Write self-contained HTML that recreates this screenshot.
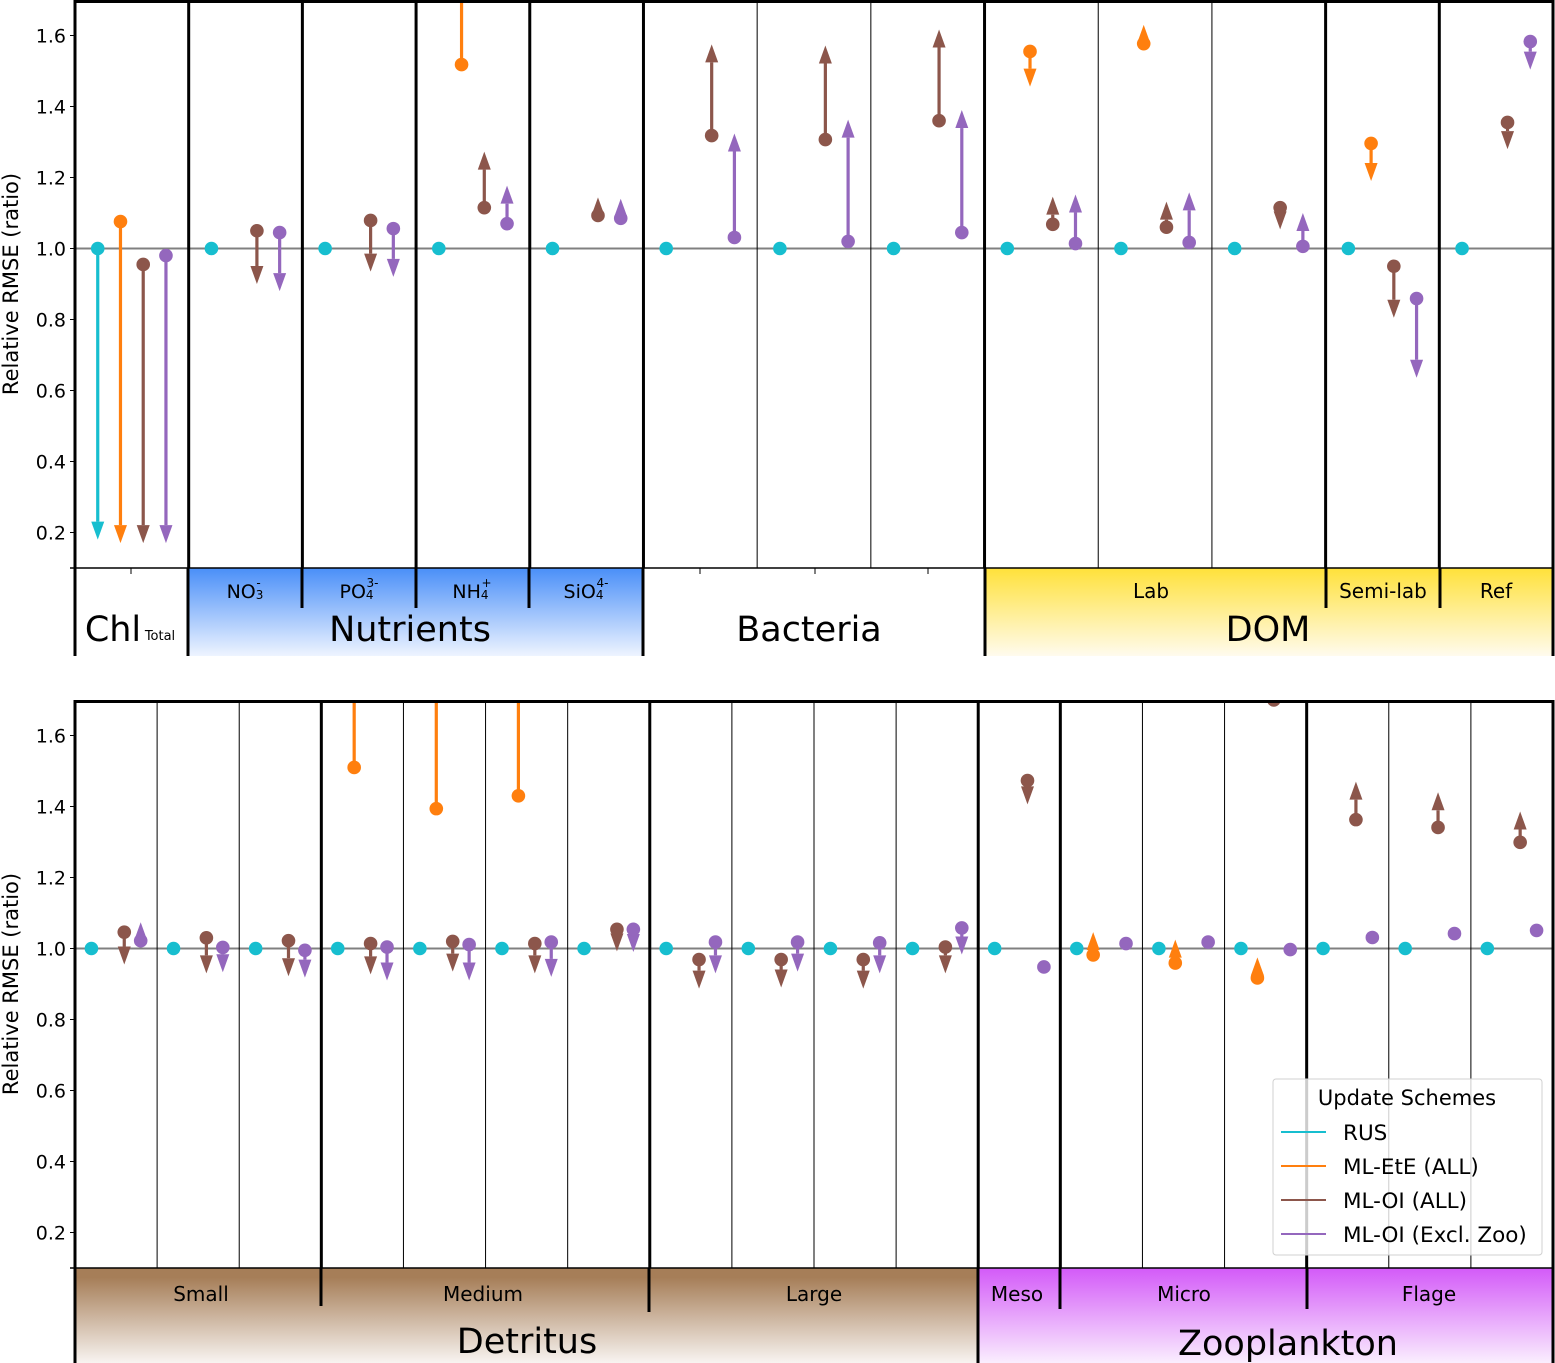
<!DOCTYPE html>
<html><head><meta charset="utf-8"><style>
body{margin:0;background:#fff}
svg{display:block;font-family:"DejaVu Sans","Liberation Sans",sans-serif}
</style></head><body>
<svg id="fig" width="1555" height="1363" viewBox="0 0 1555 1363">
<defs>
<linearGradient id="gBlue" x1="0" y1="0" x2="0" y2="1"><stop offset="0" stop-color="#4a8ff8"/><stop offset="1" stop-color="#eef4ff"/></linearGradient>
<linearGradient id="gYel" x1="0" y1="0" x2="0" y2="1"><stop offset="0" stop-color="#ffe13a"/><stop offset="1" stop-color="#fffbee"/></linearGradient>
<linearGradient id="gBrown" x1="0" y1="0" x2="0" y2="1"><stop offset="0.1" stop-color="#a67e58"/><stop offset="1" stop-color="#f8f4f1"/></linearGradient>
<linearGradient id="gPurp" x1="0" y1="0" x2="0" y2="1"><stop offset="0" stop-color="#d35af8"/><stop offset="1" stop-color="#faeefe"/></linearGradient>
<clipPath id="clipTop"><rect x="75" y="0" width="1478" height="568"/></clipPath>
<clipPath id="clipBot"><rect x="75" y="700" width="1478" height="568"/></clipPath>
</defs>
<g id="layer"></g>
</svg>
<script>
// ---- data ----
const topCategories = ["Chl","NO3","PO4","NH4","SiO4","Bact1","Bact2","Bact3","Lab1","Lab2","Lab3","Semi-lab","Ref"];
const topRusVals = [1,1,1,1,1,1,1,1,1,1,1,1,1];
const topRusEnds = [0.18,null,null,null,null,null,null,null,null,null,null,null,null];
const topEteVals = [1.076,null,null,1.518,null,null,null,null,1.555,1.577,null,1.296,null];
const topEteEnds = [0.17,null,null,1.85,null,null,null,null,1.456,1.63,null,1.19,null];
const topOiVals = [0.955,1.05,1.079,1.115,1.093,1.318,1.307,1.36,1.068,1.06,1.115,0.95,1.355];
const topOiEnds = [0.17,0.90,0.935,1.273,1.144,1.575,1.572,1.617,1.146,1.132,1.054,0.805,1.28];
const topExVals = [0.98,1.045,1.056,1.07,1.085,1.031,1.02,1.045,1.014,1.017,1.006,0.859,1.583];
const topExEnds = [0.17,0.88,0.92,1.177,1.14,1.324,1.363,1.39,1.152,1.158,1.1,0.636,1.504];

const botCategories = ["S1","S2","S3","M1","M2","M3","M4","L1","L2","L3","L4","Meso","Mi1","Mi2","Mi3","F1","F2","F3"];
const botRusVals = [1,1,1,1,1,1,1,1,1,1,1,1,1,1,1,1,1,1];
const botRusEnds = [null,null,null,null,null,null,null,null,null,null,null,null,null,null,null,null,null,null];
const botEteVals = [null,null,null,1.51,1.394,1.43,null,null,null,null,null,null,0.982,0.959,0.917,null,null,null];
const botEteEnds = [null,null,null,1.85,1.85,1.85,null,null,null,null,null,null,1.046,1.025,0.975,null,null,null];
const botOiVals = [1.046,1.03,1.022,1.014,1.02,1.014,1.054,0.969,0.969,0.969,1.004,1.473,null,null,1.70,1.363,1.341,1.299];
const botOiEnds = [0.955,0.93,0.922,0.927,0.935,0.93,0.992,0.887,0.89,0.887,0.93,1.406,null,null,null,1.47,1.44,1.386];
const botExVals = [1.022,1.003,0.995,1.004,1.011,1.018,1.054,1.018,1.018,1.016,1.058,0.948,1.014,1.018,0.997,1.031,1.042,1.051];
const botExEnds = [1.074,0.933,0.918,0.91,0.91,0.92,0.99,0.93,0.935,0.93,0.983,null,null,null,null,null,null,null];

const yTicks = [0.2,0.4,0.6,0.8,1.0,1.2,1.4,1.6];
const seriesNames = ["RUS","ML-EtE (ALL)","ML-OI (ALL)","ML-OI (Excl. Zoo)"];
const seriesColors = ["#17becf","#ff7f0e","#8c564b","#9467bd"];

// ---- helpers ----
const NS = "http://www.w3.org/2000/svg";
const layer = document.getElementById("layer");
function mk(tag, attrs, parent){
  const e = document.createElementNS(NS, tag);
  for (const k in attrs) e.setAttribute(k, attrs[k]);
  (parent||layer).appendChild(e);
  return e;
}
const X0 = 75, X1 = 1553, PH = 568, YMIN = 0.1, YMAX = 1.7;
function yScale(top){ return v => top + (YMAX - v) / (YMAX - YMIN) * PH; }
function xScale(n){ const w = (X1 - X0) / n; return (i, s) => X0 + w * i + w * (0.2 + 0.2 * s); }

function arrow(g, x, y0, y1, color){
  const d = y1 - y0, dir = Math.sign(d), L = Math.abs(d);
  const hl = 18, hw = 6.5, sw = 1.6;
  const hs = Math.min(hl, L);
  const baseY = y1 - dir * hl;
  if (L > hl) {
    const sh = mk("rect", {x: x - sw, y: Math.min(y0, baseY), width: sw * 2, height: Math.abs(baseY - y0), fill: color}, g);
    
    
  }
  const by = L > hl ? baseY : y0;
  const hwEff = L > hl ? hw : hw * Math.max(0.6, hs / hl);
  const tri = mk("polygon", {points: `${x-hwEff},${by} ${x+hwEff},${by} ${x},${y1}`, fill: color}, g);
  
  
}

function panel(top, n, vals, ends, clipId, prefix){
  const ys = yScale(top), xs = xScale(n);
  const ref = mk("line", {x1: X0, x2: X1, y1: ys(1), y2: ys(1), stroke: "#808080", "stroke-width": 2});
  
  
  const g = mk("g", {"clip-path": `url(#${clipId})`});
  
  
  for (let s = 0; s < 4; s++) {
    for (let i = 0; i < n; i++) {
      const v = vals[s][i]; if (v === null) continue;
      const e = ends[s][i];
      if (e !== null) arrow(g, xs(i, s), ys(v), ys(e), seriesColors[s]);
    }
  }
  for (let s = 0; s < 4; s++) {
    for (let i = 0; i < n; i++) {
      const v = vals[s][i]; if (v === null) continue;
      const c = mk("circle", {cx: xs(i, s), cy: ys(v), r: 6.8, fill: seriesColors[s]}, g);
      
      
    }
  }
  yTicks.forEach(t => {
    const y = ys(t);
    const tk = mk("line", {x1: X0 - 5, x2: X0, y1: y, y2: y, stroke: "#000", "stroke-width": 1});
    
    
    const tx = mk("text", {x: X0 - 9, y: y + 7, "text-anchor": "end", "font-size": 19});
    tx.textContent = t.toFixed(1);
    
    
  });
  const yt = mk("text", {x: 0, y: 0, transform: `translate(18,${top + PH / 2}) rotate(-90)`, "text-anchor": "middle", "font-size": 21});
  yt.textContent = "Relative RMSE (ratio)";
  
  
}

function vline(x, y0, y1, w, name){
  const l = mk("line", {x1: x, x2: x, y1: y0, y2: y1, stroke: "#000", "stroke-width": w});
  
  
}
function rect(x, y, w, h, fill, name){
  const r = mk("rect", {x, y, width: w, height: h, fill});
  
  
}
function label(x, y, txt, size, name){
  const t = mk("text", {x, y, "text-anchor": "middle", "font-size": size});
  t.textContent = txt;
  
  
  return t;
}

rect(188, 568, 455, 88, "url(#gBlue)", "nutrients-band");
rect(985, 568, 568, 88, "url(#gYel)", "dom-band");
rect(75, 1268, 903, 95, "url(#gBrown)", "detritus-band");
rect(978, 1268, 575, 95, "url(#gPurp)", "zooplankton-band");

panel(0, 13, [topRusVals, topEteVals, topOiVals, topExVals], [topRusEnds, topEteEnds, topOiEnds, topExEnds], "clipTop", "top");
panel(700, 18, [botRusVals, botEteVals, botOiVals, botExVals], [botRusEnds, botEteEnds, botOiEnds, botExEnds], "clipBot", "bottom");

const wT = (X1 - X0) / 13;
[1,2,3,4,5,8,11,12].forEach(i => vline(X0 + wT * i, 0, 568, 3, 'top-group-divider'));
[6,7,9,10].forEach(i => vline(X0 + wT * i, 0, 568, 1, 'top-column-divider'));
const tf = mk("line", {x1: X0, x2: X1, y1: 1.5, y2: 1.5, stroke: "#000", "stroke-width": 3});  
const tb = mk("line", {x1: X0 - 5, x2: X1, y1: 568, y2: 568, stroke: "#000", "stroke-width": 1.5});  
vline(X0, 0, 656, 3, 'top-left-spine');
vline(X1, 0, 656, 3, 'top-right-spine');
vline(188, 568, 656, 3, 'top-group-divider');
vline(643, 568, 656, 3, 'top-group-divider');
vline(985, 568, 656, 3, 'top-group-divider');
[302, 416, 529, 1326, 1440].forEach(x => vline(x, 568, 608, 3, 'top-subgroup-divider'));
[131, 700, 815, 928].forEach(x => vline(x, 568, 574, 1, 'x-tick'));

label(113, 641, "Chl", 35, "chl-label");
label(160, 640, "Total", 13, "chl-subscript");
const nut = [["NO",245,"3","-"],["PO",359,"4","3-"],["NH",472,"4","+"],["SiO",586,"4","4-"]];
nut.forEach(n => {
  const t = mk("text", {x: n[1], y: 598, "text-anchor": "middle", "font-size": 19});
  
  
  t.textContent = n[0];
  const sb = mk("tspan", {"font-size": 12, dy: 1}, t); sb.textContent = n[2];
  const sp = mk("tspan", {"font-size": 12, dx: -7, dy: -12}, t); sp.textContent = n[3];
});
label(410, 641, "Nutrients", 35, "nutrients-label");
label(809, 641, "Bacteria", 35, "bacteria-label");
label(1151, 598, "Lab", 20, "lab-label");
label(1383, 598, "Semi-lab", 20, "semi-lab-label");
label(1496, 598, "Ref", 20, "ref-label");
label(1268, 641, "DOM", 35, "dom-label");

const wB = (X1 - X0) / 18;
[3,7,11,12,15].forEach(i => vline(X0 + wB * i, 700, 1268, 3, 'bottom-group-divider'));
[1,2,4,5,6,8,9,10,13,14,16,17].forEach(i => vline(X0 + wB * i, 700, 1268, 1, 'bottom-column-divider'));
const bf = mk("line", {x1: X0, x2: X1, y1: 701.5, y2: 701.5, stroke: "#000", "stroke-width": 3});  
const bb = mk("line", {x1: X0 - 5, x2: X1, y1: 1268, y2: 1268, stroke: "#000", "stroke-width": 1.5});  
vline(X0, 700, 1363, 3, 'bottom-left-spine');
vline(X1, 700, 1363, 3, 'bottom-right-spine');
vline(978, 1268, 1363, 3, 'bottom-group-divider');
[[321,1306],[649,1312],[1060,1309],[1307,1309]].forEach(p => vline(p[0], 1268, p[1], 3, 'bottom-subgroup-divider'));

label(201, 1301, "Small", 20, "small-label");
label(483, 1301, "Medium", 20, "medium-label");
label(814, 1301, "Large", 20, "large-label");
label(1017, 1301, "Meso", 20, "meso-label");
label(1184, 1301, "Micro", 20, "micro-label");
label(1429, 1301, "Flage", 20, "flage-label");
label(527, 1353, "Detritus", 35, "detritus-label");
label(1288, 1355, "Zooplankton", 35, "zooplankton-label");

const lg = mk("g", {});


const lb = mk("rect", {x: 1273, y: 1079, width: 269, height: 176, rx: 3, fill: "rgba(255,255,255,0.8)", stroke: "#d0d0d0", "stroke-width": 1}, lg);


const lt = mk("text", {x: 1407, y: 1105, "text-anchor": "middle", "font-size": 21}, lg);
lt.textContent = "Update Schemes";


seriesNames.forEach((nm, i) => {
  const y = 1132 + i * 34;
  const ln = mk("line", {x1: 1281, x2: 1326, y1: y, y2: y, stroke: seriesColors[i], "stroke-width": 2}, lg);
  
  
  const tx = mk("text", {x: 1343, y: y + 8, "font-size": 21.5}, lg);
  tx.textContent = nm;
  
  
});
</script>
</body></html>
